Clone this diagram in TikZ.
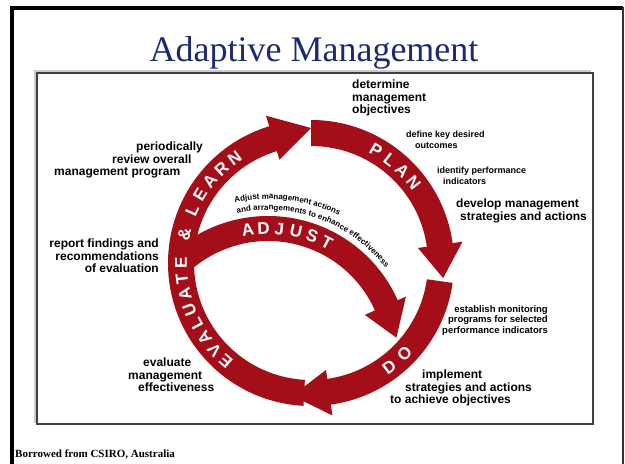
\documentclass[tikz,border=0pt]{standalone}
\usepackage{fontspec}
\setmainfont{Liberation Serif}
\setsansfont{Liberation Sans}
\usetikzlibrary{decorations.text}
\definecolor{cyclered}{RGB}{163,14,24}
\definecolor{titleblue}{RGB}{30,42,112}
\newcommand{\adjfont}{\sffamily\bfseries\fontsize{8}{8}\selectfont}

\begin{document}
\begin{tikzpicture}[x=1pt, y=1pt,
    band/.style={fill=cyclered},
    bandtxt/.style={text=white, font=\sffamily\bfseries\fontsize{17}{17}\selectfont, inner sep=0pt},
    lbl/.style={font=\sffamily\bfseries\fontsize{12}{12.5}\selectfont, inner sep=0pt, align=left},
    note/.style={font=\sffamily\bfseries\fontsize{9}{10.5}\selectfont, inner sep=0pt, align=left}]

  \useasboundingbox (0,0) rectangle (625,464);

  % slide frame and picture box
  \draw[line width=4pt] (12,0) -- (12,456) -- (623,456);
  \draw[line width=2pt, black!80] (623,457) -- (623,0);
  \fill[black!20] (34,41) rectangle (591,394);
  \filldraw[fill=white, draw=black!75, line width=1.2pt] (37,40) rectangle (593,391);

  \node[font=\fontsize{36}{36}\selectfont, text=titleblue, anchor=base] (title) at (314,402) {Adaptive Management};
  \node[font=\bfseries\fontsize{11}{12}\selectfont, anchor=base west, inner sep=0pt] (credit) at (15,6) {Borrowed from CSIRO, Australia};

  % centres of the two circles
  \coordinate (c) at (311,201);
  \coordinate (ca) at (268,106);

  % PLAN
  \fill[band] ([shift={(c)}]90:143) arc[start angle=90, end angle=8, radius=143]
    -- ([shift={(c)}]8:153) -- ([shift={(c)}]-6.5:133) -- ([shift={(c)}]8:108)
    -- ([shift={(c)}]8:117) arc[start angle=8, end angle=90, radius=117] -- cycle;
  % EVALUATE & LEARN
  \fill[band] ([shift={(c)}]-93:143) arc[start angle=-93, end angle=-253, radius=143]
    -- ([shift={(c)}]-253:154) -- ([shift={(c)}]-270:135) -- ([shift={(c)}]-253:108)
    -- ([shift={(c)}]-253:117) arc[start angle=-253, end angle=-93, radius=117] -- cycle;
  % DO
  \fill[band] ([shift={(c)}]-8:143) arc[start angle=-8, end angle=-82, radius=143]
    -- ([shift={(c)}]-82:154) -- ([shift={(c)}]-98:134) -- ([shift={(c)}]-82:108)
    -- ([shift={(c)}]-82:117) arc[start angle=-82, end angle=-8, radius=117] -- cycle;
  % ADJUST
  \fill[band] ([shift={(ca)}]132:142) arc[start angle=132, end angle=24, radius=142]
    -- ([shift={(ca)}]24:151) -- ([shift={(ca)}]9:130) -- ([shift={(ca)}]24:106)
    -- ([shift={(ca)}]24:117) arc[start angle=24, end angle=132, radius=117] -- cycle;

  % letters on the bands
  \foreach \ch/\a [count=\i] in {P/60,L/52.7,A/45.3,N/38}
    \node[bandtxt, rotate=\a-90] (plan-\i) at ([shift={(c)}]\a:130) {\ch};
  \foreach \ch/\a [count=\i] in {D/-53,O/-44}
    \node[bandtxt, rotate=\a+90] (do-\i) at ([shift={(c)}]\a:130) {\ch};
  \foreach \ch/\a [count=\i] in {E/229,V/222,A/215,L/208,U/201,A/194,T/187,E/180,\&/167,L/156,E/148.5,A/141,R/133.5,N/126}
    \node[bandtxt, rotate=\a-90] (eval-\i) at ([shift={(c)}]\a:130) {\ch};
  \foreach \ch/\a [count=\i] in {A/99,D/92,J/85,U/77.5,S/70,T/63}
    \node[bandtxt, rotate=\a-90] (adj-\i) at ([shift={(ca)}]\a:129.5) {\ch};

  % curved note over ADJUST
  \path[decorate, decoration={text along path, text align=left, text={|\adjfont|Adjust management actions}}]
    ([shift={(ca)}]102:159) arc[start angle=102, end angle=40, radius=159];
  \path[decorate, decoration={text along path, text align=left, text={|\adjfont|and arrangements to enhance effectiveness}}]
    ([shift={(ca)}]102:148) arc[start angle=102, end angle=15, radius=148];

  % labels round the cycle
  \node[lbl, anchor=north west] (objectives) at (352,384) {determine\\management\\objectives};
  \node[note, anchor=north west] (outcomes) at (406,333) {define key desired\\\hspace{9pt}outcomes};
  \node[note, anchor=north west] (indicators) at (437,297) {identify performance\\\hspace{6pt}indicators};
  \node[lbl, anchor=north west] (develop) at (456,265) {develop management\\\hspace{4pt}strategies and actions};
  \node[note, font=\sffamily\bfseries\fontsize{9.5}{10.5}\selectfont, anchor=north east, align=right] (monitor) at (548,159) {establish monitoring\\programs for selected\\performance indicators};
  \node[lbl, anchor=north west] (implement) at (390,94) {\hspace{32pt}implement\\\hspace{15pt}strategies and actions\\to achieve objectives};
  \node[lbl, anchor=north west] (evaluate) at (128,106) {\hspace{15pt}evaluate\\management\\\hspace{10pt}effectiveness};
  \node[lbl, anchor=north east, align=right] (report) at (159,225) {report findings and\\recommendations\\of evaluation};
  \node[lbl, anchor=north west] (review) at (54,322) {\hspace{82pt}periodically\\\hspace{58pt}review overall\\management program};

\end{tikzpicture}
\end{document}
